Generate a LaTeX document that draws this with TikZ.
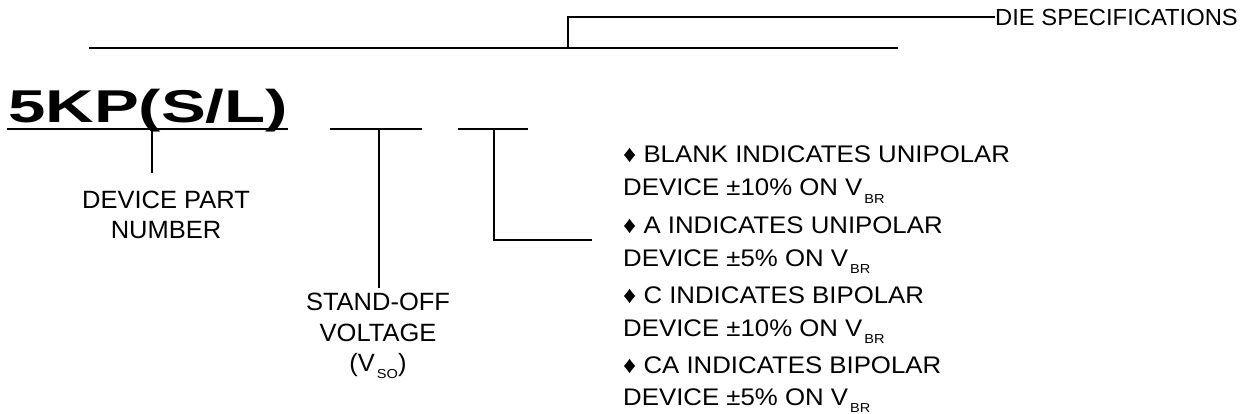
\documentclass[tikz,border=0pt]{standalone}
\usepackage{fontspec}
\usepackage{graphicx}
\setmainfont{Liberation Sans}
\newfontfamily\specfont[FakeStretch=1.075]{Liberation Sans}
\newfontfamily\lblfont[FakeStretch=1.02]{Liberation Sans}
\newfontfamily\subfont[FakeStretch=1.12]{Liberation Sans}
\newcommand{\mysub}[1]{\kern2pt\raisebox{-7pt}{\subfont\fontsize{13}{13}\selectfont #1}}
\newcommand{\mydia}{♦\ }
\tikzset{
  ln/.style={line width=1.8pt, line cap=butt},
  lbl/.style={inner sep=0pt, anchor=base, font=\lblfont\fontsize{25}{29}\selectfont},
  spec/.style={inner sep=0pt, anchor=base west, font=\specfont\fontsize{24}{30}\selectfont},
}
\begin{document}
\begin{tikzpicture}[x=1pt,y=-1pt]
\useasboundingbox (0,0) rectangle (1241,414);
% title
\node[anchor=base west, inner sep=0pt] (title) at (8,123)
  {\scalebox{1.46}[1]{\fontsize{46}{46}\selectfont\bfseries 5KP(S/L)}};
\coordinate (ul1) at (7,129);
\coordinate (ul2) at (288,129);
\draw[ln] (ul1) -- (ul2);
% die specifications
\node[inner sep=0pt, anchor=west, font=\lblfont\fontsize{23.3}{27}\selectfont] (die) at (995,17) {DIE SPECIFICATIONS};
\coordinate (b1) at (89,48);
\coordinate (b2) at (898,48);
\coordinate (dj) at (568,48);
\draw[ln] (b1) -- (b2);
\draw[ln] (dj) |- (die.west);
% device part number
\coordinate (tk) at (152,129);
\coordinate (tkend) at (152,173);
\draw[line width=1.5pt] (tk) -- (tkend);
\node[lbl] (dp1) at (166,208) {DEVICE PART};
\node[lbl] (dp2) at (166,238) {NUMBER};
% stand-off voltage
\coordinate (s1) at (330,129);
\coordinate (s2) at (422,129);
\coordinate (s3) at (379,129);
\draw[ln] (s1) -- (s2);
\node[lbl] (so1) at (378,310) {STAND-OFF};
\node[lbl] (so2) at (378,341) {VOLTAGE};
\node[lbl] (so3) at (378,371) {(V\mysub{SO})};
\draw[ln] (s3) -- ([yshift=4pt]so1.north -| s3);
% suffix
\coordinate (t1) at (458,129);
\coordinate (t2) at (528,129);
\coordinate (t3) at (494,129);
\coordinate (t4) at (592,240);
\draw[ln] (t1) -- (t2);
\draw[ln] (t3) |- (t4);
% options
\node[spec] (o1) at (623,163) {\mydia BLANK INDICATES UNIPOLAR};
\node[spec] (o2) at (623,196) {DEVICE ±10\% ON V\mysub{BR}};
\node[spec] (o3) at (623,233) {\mydia A INDICATES UNIPOLAR};
\node[spec] (o4) at (623,266) {DEVICE ±5\% ON V\mysub{BR}};
\node[spec] (o5) at (623,303) {\mydia C INDICATES BIPOLAR};
\node[spec] (o6) at (623,336) {DEVICE ±10\% ON V\mysub{BR}};
\node[spec] (o7) at (623,373) {\mydia CA INDICATES BIPOLAR};
\node[spec] (o8) at (623,405) {DEVICE ±5\% ON V\mysub{BR}};
\end{tikzpicture}
\end{document}
